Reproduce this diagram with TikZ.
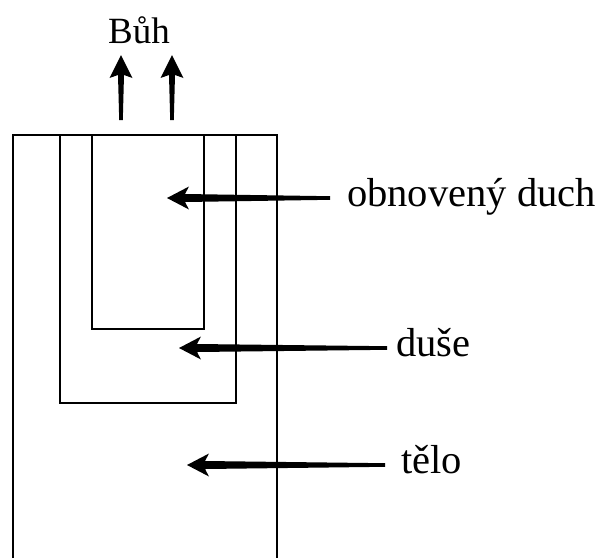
\documentclass[tikz,border=0pt]{standalone}
\usepackage{fontspec}
\setmainfont{Liberation Serif}
\usetikzlibrary{calc}
% leftward tapered arrow: #1 tip, #2 tail
\newcommand\arrL[2]{%
  \fill[black] (#1) -- ($(#1)+(22,-11.5)$) -- ($(#1)+(18,-4)$) -- ($(#2)+(0,-1.8)$)
    -- ($(#2)+(0,1.8)$) -- ($(#1)+(18,4)$) -- ($(#1)+(22,11.5)$) -- cycle;}
% upward tapered arrow: #1 tip, #2 tail
\newcommand\arrU[2]{%
  \fill[black] (#1) -- ($(#1)+(-11.5,23)$) -- ($(#1)+(-3,20)$) -- ($(#2)+(-1.8,0)$)
    -- ($(#2)+(1.8,0)$) -- ($(#1)+(3,20)$) -- ($(#1)+(11.5,23)$) -- cycle;}
\begin{document}
\begin{tikzpicture}[x=1pt,y=-1pt,
  box/.style={draw=black,line width=2.2pt},
  lbl/.style={inner sep=0pt,font=\fontsize{40.5}{46}\selectfont},
  godlbl/.style={inner sep=0pt,font=\fontsize{37}{44}\selectfont}]
\useasboundingbox (0,0) rectangle (608,558);
% boxes
\draw[box] (13,558) -- (13,135) -- (277,135) -- (277,558);
\draw[box] (60,135) rectangle (236,403);
\draw[box] (92,135) rectangle (204,329);
% labels
\node[godlbl,anchor=base] (buh) at (139,43) {Bůh};
\node[lbl,anchor=base west] (obn) at (347,206) {obnovený duch};
\node[lbl,anchor=base west] (duse) at (396,356) {duše};
\node[lbl,anchor=base west] (telo) at (401,473) {tělo};
% arrow ends
\coordinate (u1tip) at ($(buh.base)+(-18,12)$);
\coordinate (u1tail) at ($(buh.base)+(-18,77)$);
\coordinate (u2tip) at ($(buh.base)+(33,12)$);
\coordinate (u2tail) at ($(buh.base)+(33,77)$);
\coordinate (h1) at (167,198);
\coordinate (t1) at ($(obn.base west)+(-17,-8)$);
\coordinate (h2) at (179,348);
\coordinate (t2) at ($(duse.base west)+(-9,-8)$);
\coordinate (h3) at (187,465);
\coordinate (t3) at ($(telo.base west)+(-16,-8)$);
% arrows
\arrU{u1tip}{u1tail}
\arrU{u2tip}{u2tail}
\arrL{h1}{t1}
\arrL{h2}{t2}
\arrL{h3}{t3}
\end{tikzpicture}
\end{document}
